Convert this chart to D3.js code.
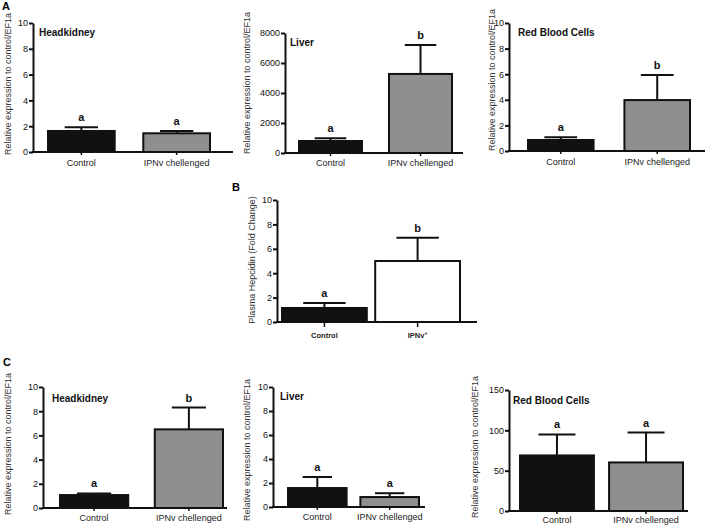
<!DOCTYPE html>
<html><head><meta charset="utf-8">
<script src="https://cdn.jsdelivr.net/npm/d3@7"></script>
<style>
body{margin:0;background:#fff}
svg{display:block}
text{font-family:"Liberation Sans",Arial,Helvetica,sans-serif}
</style>
</head><body>
<svg id="chart" width="708" height="526"></svg>
<script>
// ---------- DATA ----------
const groups = ["Control", "IPNv chellenged"];
const groupsB = ["Control", "IPNv+"];

const a1Means = [1.63, 1.45],  a1Sem = [0.28, 0.18],  a1Letters = ["a", "a"];
const a2Means = [800, 5270],   a2Sem = [180, 1930],   a2Letters = ["a", "b"];
const a3Means = [0.86, 3.98],  a3Sem = [0.21, 1.96],  a3Letters = ["a", "b"];
const bMeans  = [1.15, 5.0],   bSem  = [0.41, 1.9],   bLetters  = ["a", "b"];
const c1Means = [1.07, 6.5],   c1Sem = [0.13, 1.8],   c1Letters = ["a", "b"];
const c2Means = [1.58, 0.83],  c2Sem = [0.92, 0.32],  c2Letters = ["a", "a"];
const c3Means = [68.9, 60.2],  c3Sem = [26, 37],      c3Letters = ["a", "a"];

const ticks10  = [0, 2, 4, 6, 8, 10];
const ticks8000 = [0, 2000, 4000, 6000, 8000];
const ticks150 = [0, 50, 100, 150];

const yTitleRel = "Relative expression to control/EF1a";
const yTitleB = "Plasma Hepcidin (Fold Change)";

// ---------- DRAW ----------
const svg = d3.select("#chart");

function panel(o) {
  const g = svg.append("g");
  const y = d3.scaleLinear().domain([0, o.ymax]).range([o.y0, o.yTop]);
  const x = d3.scaleBand().domain(o.cats).range([o.barL, o.barR])
              .paddingInner(o.pad).paddingOuter(0);
  const data = o.cats.map((c, i) => ({c, m: o.means[i], s: o.sems[i], l: o.letters[i], f: o.fills[i]}));

  // bars
  g.selectAll("rect.bar").data(data).join("rect")
    .attr("x", d => x(d.c)).attr("width", x.bandwidth())
    .attr("y", d => y(d.m)).attr("height", d => y(0) - y(d.m))
    .attr("fill", d => d.f).attr("stroke", "#111").attr("stroke-width", 2);

  // error bars (upper only)
  const capW = x.bandwidth() * 0.5;
  g.selectAll("line.ev").data(data).join("line")
    .attr("x1", d => x(d.c) + x.bandwidth() / 2).attr("x2", d => x(d.c) + x.bandwidth() / 2)
    .attr("y1", d => y(d.m)).attr("y2", d => y(d.m + d.s))
    .attr("stroke", "#111").attr("stroke-width", 2);
  g.selectAll("line.cap").data(data).join("line")
    .attr("x1", d => x(d.c) + x.bandwidth() / 2 - capW / 2)
    .attr("x2", d => x(d.c) + x.bandwidth() / 2 + capW / 2)
    .attr("y1", d => y(d.m + d.s)).attr("y2", d => y(d.m + d.s))
    .attr("stroke", "#111").attr("stroke-width", 2);

  // significance letters
  g.selectAll("text.sig").data(data).join("text")
    .attr("x", d => x(d.c) + x.bandwidth() / 2)
    .attr("y", d => y(d.m + d.s) - 6)
    .attr("text-anchor", "middle").attr("font-size", 11).attr("font-weight", "bold")
    .attr("fill", "#111").text(d => d.l);

  // y axis
  const ya = g.append("g").attr("transform", `translate(${o.ax},0)`)
    .call(d3.axisLeft(y).tickValues(o.ticks).tickSize(4).tickSizeOuter(0).tickFormat(d3.format("d")));
  ya.select(".domain").attr("stroke", "#111").attr("stroke-width", 2);
  ya.selectAll(".tick line").attr("stroke", "#111").attr("stroke-width", 2);
  ya.selectAll(".tick text").attr("font-size", 9).attr("fill", "#111").attr("x", -5)
    .style("font-family", '"Liberation Sans",Arial,sans-serif');

  // x axis
  g.append("line").attr("x1", o.ax - 1).attr("x2", o.axEnd).attr("y1", o.y0).attr("y2", o.y0)
    .attr("stroke", "#111").attr("stroke-width", 2);
  g.selectAll("line.xt").data(data).join("line")
    .attr("x1", d => x(d.c) + x.bandwidth() / 2).attr("x2", d => x(d.c) + x.bandwidth() / 2)
    .attr("y1", o.y0).attr("y2", o.y0 + o.xTick)
    .attr("stroke", "#111").attr("stroke-width", 1.5);
  const xl = g.selectAll("text.xl").data(data).join("text")
    .attr("x", d => x(d.c) + x.bandwidth() / 2).attr("y", o.y0 + o.xLabDy)
    .attr("text-anchor", "middle").attr("font-size", o.xLabSize)
    .attr("font-weight", o.xLabBold ? "bold" : "normal").attr("fill", "#222");
  xl.each(function(d) {
    const t = d3.select(this);
    if (d.c.endsWith("+")) {
      t.append("tspan").text(d.c.slice(0, -1));
      t.append("tspan").attr("dy", -3).attr("font-size", o.xLabSize * 0.7).text("+");
    } else t.text(d.c);
  });

  // panel title
  if (o.title) g.append("text").attr("x", o.titleX).attr("y", o.titleY)
    .attr("font-size", 10).attr("font-weight", "bold").attr("fill", "#111").text(o.title);

  // y title
  g.append("text").attr("transform", `translate(${o.ytX},${o.ytY}) rotate(-90)`)
    .attr("text-anchor", "middle").attr("font-size", 9).attr("fill", "#333").text(o.ytitle);
}

const gray = "#8f8f8f";

panel({cats: groups, means: a1Means, sems: a1Sem, letters: a1Letters, fills: ["#111", gray],
  ymax: 10, ticks: ticks10, ax: 33, axEnd: 233, yTop: 23, y0: 152, barL: 48, barR: 210, pad: 0.3,
  title: "Headkidney", titleX: 39, titleY: 36, ytitle: yTitleRel, ytX: 11, ytY: 84,
  xTick: 3, xLabDy: 14, xLabSize: 9, xLabBold: false});

panel({cats: groups, means: a2Means, sems: a2Sem, letters: a2Letters, fills: ["#111", gray],
  ymax: 8000, ticks: ticks8000, ax: 285, axEnd: 463, yTop: 33, y0: 153, barL: 299, barR: 452, pad: 0.3,
  title: "Liver", titleX: 290, titleY: 46, ytitle: yTitleRel, ytX: 250, ytY: 83,
  xTick: 3, xLabDy: 13, xLabSize: 9, xLabBold: false});

panel({cats: groups, means: a3Means, sems: a3Sem, letters: a3Letters, fills: ["#111", gray],
  ymax: 10, ticks: ticks10, ax: 509, axEnd: 705, yTop: 23, y0: 151, barL: 528, barR: 690, pad: 0.32,
  title: "Red Blood Cells", titleX: 518, titleY: 36, ytitle: yTitleRel, ytX: 495, ytY: 80,
  xTick: 3, xLabDy: 14, xLabSize: 9, xLabBold: false});

panel({cats: groupsB, means: bMeans, sems: bSem, letters: bLetters, fills: ["#111", "#fff"],
  ymax: 10, ticks: ticks10, ax: 277, axEnd: 477, yTop: 200, y0: 322, barL: 282, barR: 460, pad: 0.09,
  title: null, ytitle: yTitleB, ytX: 255, ytY: 260,
  xTick: 5, xLabDy: 16, xLabSize: 7.5, xLabBold: true});

panel({cats: groups, means: c1Means, sems: c1Sem, letters: c1Letters, fills: ["#111", gray],
  ymax: 10, ticks: ticks10, ax: 43, axEnd: 227, yTop: 387, y0: 508, barL: 60, barR: 223, pad: 0.28,
  title: "Headkidney", titleX: 52, titleY: 402, ytitle: yTitleRel, ytX: 11, ytY: 444,
  xTick: 3, xLabDy: 13, xLabSize: 9, xLabBold: false});

panel({cats: groups, means: c2Means, sems: c2Sem, letters: c2Letters, fills: ["#111", gray],
  ymax: 10, ticks: ticks10, ax: 273, axEnd: 425, yTop: 387, y0: 507, barL: 288, barR: 419, pad: 0.19,
  title: "Liver", titleX: 280, titleY: 400, ytitle: yTitleRel, ytX: 250, ytY: 450,
  xTick: 3, xLabDy: 13, xLabSize: 9, xLabBold: false});

panel({cats: groups, means: c3Means, sems: c3Sem, letters: c3Letters, fills: ["#111", gray],
  ymax: 150, ticks: ticks150, ax: 509, axEnd: 688, yTop: 390, y0: 511, barL: 520, barR: 683, pad: 0.17,
  title: "Red Blood Cells", titleX: 513, titleY: 404, ytitle: yTitleRel, ytX: 478, ytY: 447,
  xTick: 3, xLabDy: 11.5, xLabSize: 9, xLabBold: false});

// panel letters
svg.append("text").attr("x", 2).attr("y", 10).attr("font-size", 11).attr("font-weight", "bold").text("A");
svg.append("text").attr("x", 232).attr("y", 191).attr("font-size", 11).attr("font-weight", "bold").text("B");
svg.append("text").attr("x", 3).attr("y", 366).attr("font-size", 11).attr("font-weight", "bold").text("C");
</script>
</body></html>
